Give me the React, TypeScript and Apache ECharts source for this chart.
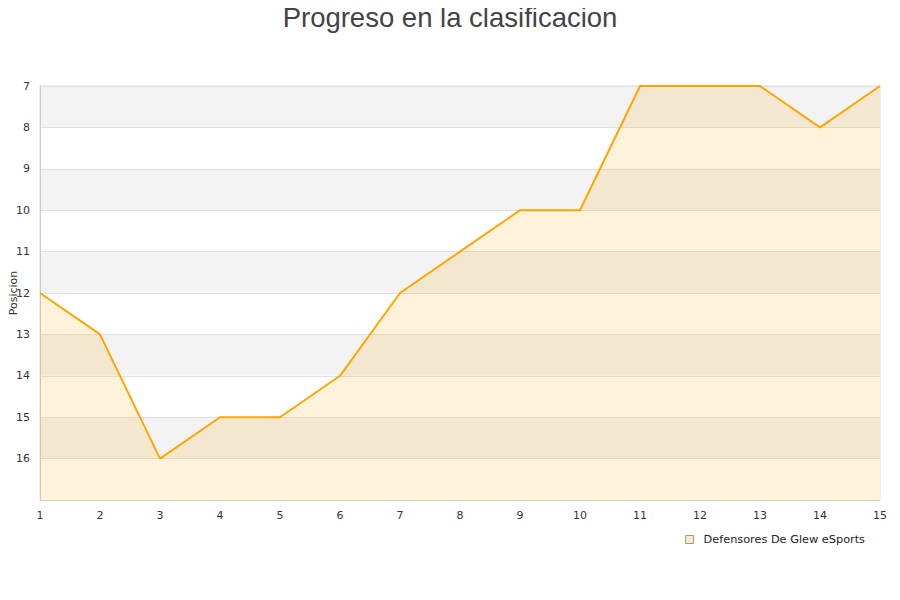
import React, { useEffect, useRef } from "react";
import * as echarts from "echarts";

const rounds = ["1", "2", "3", "4", "5", "6", "7", "8", "9", "10", "11", "12", "13", "14", "15"];
const positions = [12, 13, 16, 15, 15, 14, 12, 11, 10, 10, 7, 7, 7, 8, 7];
const teamName = "Defensores De Glew eSports";
const titleText = "Progreso en la clasificacion";

export default function App() {
  const ref = useRef<HTMLDivElement>(null);
  useEffect(() => {
    if (!ref.current) return;
    const chart = echarts.init(ref.current, null, { renderer: "svg" });
    chart.setOption({
      animation: false,
      backgroundColor: "#ffffff",
      title: {
        text: titleText,
        left: "center",
        top: -2,
        textStyle: { fontFamily: "Liberation Sans", fontSize: 27.5, fontWeight: "normal", color: "#444444" },
      },
      grid: {
        left: 40,
        right: 20,
        top: 86,
        bottom: 100,
        outerBoundsMode: "none",
        containLabel: false,
        show: true,
        borderColor: "#dddddd",
        borderWidth: 1,
        backgroundColor: "transparent",
      },
      legend: {
        data: [{ name: teamName, icon: "rect", itemStyle: { color: "#fde9c4", borderColor: "#999999", borderWidth: 1 } }],
        right: 30,
        top: 529,
        itemWidth: 8,
        itemHeight: 8,
        textStyle: { fontFamily: "DejaVu Sans", fontSize: 11.3, color: "#222", padding: [0, 0, 0, 5] },
      },
      xAxis: {
        type: "category",
        data: rounds,
        boundaryGap: false,
        axisLine: { show: true, lineStyle: { color: "#cccccc" } },
        axisTick: { show: false },
        axisLabel: { fontFamily: "DejaVu Sans", fontSize: 11, color: "#333", margin: 10 },
        splitLine: { show: false },
      },
      yAxis: {
        type: "value",
        inverse: true,
        min: 7,
        max: 17,
        interval: 1,
        name: "Posicion",
        nameLocation: "middle",
        nameGap: 21,
        nameMoveOverlap: false,
        nameTextStyle: { fontFamily: "DejaVu Sans", fontSize: 11, color: "#333" },
        axisLine: { show: true, lineStyle: { color: "#cccccc" } },
        axisTick: { show: false },
        axisLabel: {
          fontFamily: "DejaVu Sans",
          fontSize: 11,
          color: "#333",
          margin: 10,
          formatter: (v: number) => (v === 17 ? "" : String(v)),
        },
        splitLine: { show: true, lineStyle: { color: "#e0e0e0" } },
        splitArea: { show: true, areaStyle: { color: ["#f3f3f3", "#ffffff"] } },
      },
      series: [
        {
          name: teamName,
          type: "line",
          data: positions,
          showSymbol: false,
          symbol: "none",
          lineStyle: { color: "#ffa500", width: 2 },
          itemStyle: { color: "#fde9c4", borderColor: "#999999", borderWidth: 1 },
          areaStyle: { color: "rgba(255,165,0,0.21)", origin: "end" },
        },
      ],
    });
    return () => chart.dispose();
  }, []);
  return <div ref={ref} style={{ width: 900, height: 600, margin: -8 }} />;
}
